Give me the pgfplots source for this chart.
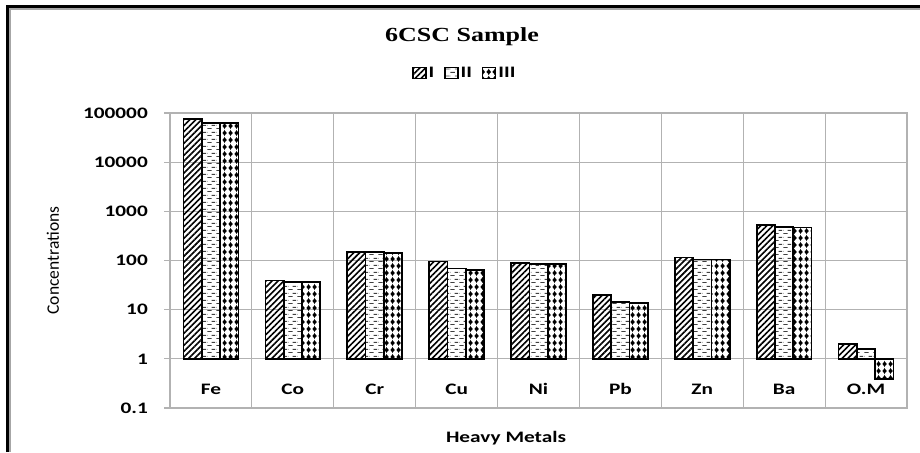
\documentclass[border=0pt]{standalone}
\usepackage{pgfplots}
\pgfplotsset{compat=1.18}
\usepackage{fontspec}
\setmainfont{Carlito}[FakeStretch=1.33]
\newfontfamily\plainfont{Carlito}
\newfontfamily\titlefont{Liberation Serif}[FakeStretch=1.3]
\usetikzlibrary{patterns,patterns.meta}
\definecolor{gridgray}{RGB}{178,178,178}

\tikzdeclarepattern{
  name=hdash, type=uncolored,
  bounding box={(0pt,0pt) and (9pt,7pt)},
  tile size={(9pt,7pt)},
  code={
    \draw[line width=0.9pt] (0.5pt,1.75pt) -- (5pt,1.75pt);
    \draw[line width=0.9pt] (5pt,5.25pt) -- (9pt,5.25pt);
    \draw[line width=0.9pt] (0pt,5.25pt) -- (0.5pt,5.25pt);
  }
}
\tikzdeclarepattern{
  name=diam, type=uncolored,
  bounding box={(0pt,0pt) and (6pt,6.5pt)},
  tile size={(6pt,6.5pt)},
  code={
    \fill (3pt,0.5pt) -- (5.6pt,3.25pt) -- (3pt,6pt) -- (0.4pt,3.25pt) -- cycle;
    \draw[line width=0.7pt] (3pt,0pt) -- (3pt,6.5pt);
  }
}

\begin{document}
\begin{tikzpicture}[x=1pt,y=1pt]
\useasboundingbox (0,0) rectangle (920,452);
\fill[white] (0,0) rectangle (920,452);
% frame
\draw[black, line width=3pt] (6,445.5) -- (920,445.5);
\draw[black, line width=3pt] (7.5,0) -- (7.5,447);
\draw[gray!70, line width=1.5pt] (9,442.8) -- (920,442.8);
\draw[gray!70, line width=1.5pt] (10,0) -- (10,443.5);

\node[font=\titlefont\bfseries\fontsize{20}{23}\selectfont] at (462,415) {6CSC Sample};

\begin{axis}[
  at={(170pt,44pt)}, anchor=south west,
  scale only axis, width=737pt, height=295pt,
  ymode=log, ymin=0.1, ymax=100000,
  xmin=-0.5, xmax=8.5,
  ybar=0pt, bar width=18.3pt,
  xtick={0,...,8},
  xticklabels={Fe,Co,Cr,Cu,Ni,Pb,Zn,Ba,O.M},
  minor xtick={-0.5,0.5,...,8.5},
  xminorgrids=true, ymajorgrids=true, xmajorgrids=false,
  ytick={0.1,1,10,100,1000,10000,100000},
  yticklabels={0.1,1,10,100,1000,10000,100000},
  yminorticks=false,
  grid style={gridgray, line width=1.1pt},
  minor grid style={gridgray, line width=1.1pt},
  axis line style={gridgray, line width=1.1pt},
  xtick style={draw=none},
  minor tick length=0pt,
  ytick style={gridgray, line width=1.1pt},
  tick align=outside, major tick length=6pt,
  ytick pos=left,
  xticklabel style={anchor=center, yshift=25pt, font=\bfseries\fontsize{16}{19}\selectfont},
  yticklabel style={anchor=east, inner sep=0pt, xshift=-16pt, font=\bfseries\fontsize{16}{19}\selectfont},
  xlabel={Heavy Metals},
  xlabel style={at={(axis description cs:0.456,-0.102)}, anchor=center, font=\bfseries\fontsize{16}{19}\selectfont},
  ylabel={Concentrations},
  ylabel style={at={(axis description cs:-0.159,0.5)}, anchor=center, font=\plainfont\fontsize{17.5}{20}\selectfont},
  legend columns=3,
  legend style={at={(axis description cs:0.40,1.136)}, anchor=center, draw=none, fill=none,
    font=\bfseries\fontsize{16}{18}\selectfont,
    /tikz/every even column/.append style={column sep=8pt}},
  legend image code/.code={\draw[#1, line width=1.4pt] (0pt,-5.5pt) rectangle (13pt,5.5pt);},
]
\addplot[draw=black, line width=1.7pt, pattern={Lines[angle=45,distance=4.2pt,line width=1.6pt]}]
  coordinates {(0,75000) (1,39) (2,150) (3,95) (4,90) (5,20) (6,115) (7,520) (8,2.0)};
\addplot[draw=black, line width=1.7pt, pattern=hdash, pattern color=black!75]
  coordinates {(0,63000) (1,37) (2,150) (3,69) (4,84) (5,14.5) (6,105) (7,475) (8,1.6)};
\addplot[draw=black, line width=1.7pt, pattern=diam, pattern color=black]
  coordinates {(0,62000) (1,37) (2,140) (3,64) (4,84) (5,13.7) (6,105) (7,470) (8,0.39)};
\legend{I,II,III}
\end{axis}
\end{tikzpicture}
\end{document}
